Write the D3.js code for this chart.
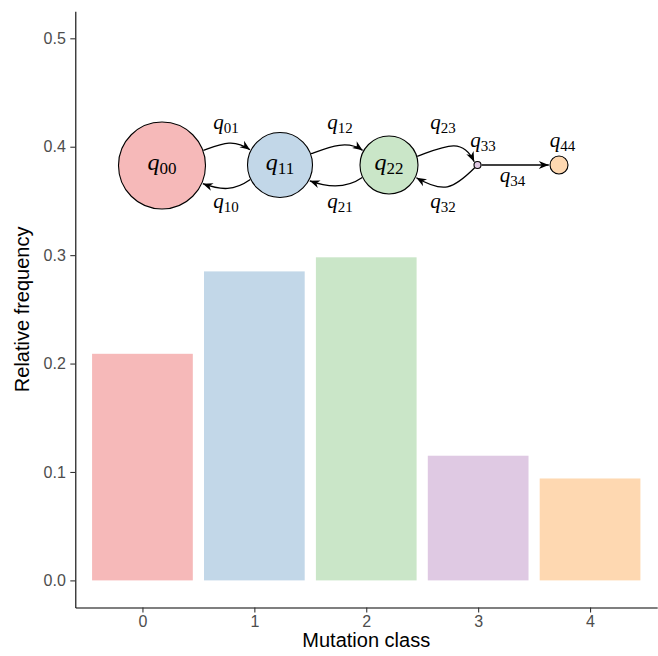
<!DOCTYPE html>
<html>
<head>
<meta charset="utf-8">
<script src="https://cdn.jsdelivr.net/npm/d3@7"></script>
<style>
  body { margin: 0; background: #fff; }
  svg { display: block; }
</style>
</head>
<body>
<div id="chart"></div>
<script>
// data
const classes = [0, 1, 2, 3, 4];
const freqs = [0.209, 0.285, 0.298, 0.115, 0.094];
const yTicks = [0, 0.1, 0.2, 0.3, 0.4, 0.5];
const barColors = ["#F6B9B9", "#C2D7E8", "#CAE6C8", "#DFC9E3", "#FED8B1"];

// transition diagram: states and the arrows between them
const states = ["00", "11", "22", "33", "44"];
const transitions = [
  { from: 0, to: 1, sub: "01" },
  { from: 1, to: 0, sub: "10" },
  { from: 1, to: 2, sub: "12" },
  { from: 2, to: 1, sub: "21" },
  { from: 2, to: 3, sub: "23" },
  { from: 3, to: 2, sub: "32" },
  { from: 3, to: 4, sub: "34" }
];

const width = 658, height = 656;
const font = "'Liberation Sans', Arial, Helvetica, sans-serif";
const mathFont = "'Liberation Serif', 'Times New Roman', serif";

const svg = d3.select('#chart').append('svg')
  .attr('width', width)
  .attr('height', height);

const x = d3.scaleLinear().domain([-0.6, 4.6]).range([75.3, 657.2]);
const y = d3.scaleLinear().domain([-0.025, 0.525]).range([607.5, 11.2]);

// bars
svg.append('g')
  .selectAll('rect')
  .data(classes)
  .enter().append('rect')
  .attr('x', d => x(d - 0.45))
  .attr('width', d => x(d + 0.45) - x(d - 0.45))
  .attr('y', (d, i) => y(freqs[i]))
  .attr('height', (d, i) => y(0) - y(freqs[i]))
  .attr('fill', (d, i) => barColors[i]);

// axes
const yAxis = svg.append('g')
  .attr('transform', `translate(${x.range()[0]},0)`)
  .call(d3.axisLeft(y).tickValues(yTicks).tickFormat(d3.format('.1f'))
    .tickSize(5).tickSizeOuter(0).tickPadding(4.5));

const xAxis = svg.append('g')
  .attr('transform', `translate(0,${y.range()[0]})`)
  .call(d3.axisBottom(x).tickValues(classes).tickFormat(d3.format('d'))
    .tickSize(5).tickSizeOuter(0).tickPadding(3.5));

[yAxis, xAxis].forEach(ax => {
  ax.select('.domain').attr('stroke', '#000').attr('stroke-width', 1.1);
  ax.selectAll('.tick line').attr('stroke', '#333').attr('stroke-width', 1.1);
  ax.selectAll('.tick text')
    .attr('fill', '#4D4D4D')
    .style('font-family', font)
    .style('font-size', '16px');
});

svg.append('text')
  .attr('x', (x.range()[0] + x.range()[1]) / 2)
  .attr('y', 647)
  .attr('text-anchor', 'middle')
  .style('font-family', font)
  .style('font-size', '20px')
  .text('Mutation class');

svg.append('text')
  .attr('transform', `translate(28.5,${(y.range()[0] + y.range()[1]) / 2}) rotate(-90)`)
  .attr('text-anchor', 'middle')
  .style('font-family', font)
  .style('font-size', '20px')
  .text('Relative frequency');

// ---- inset diagram ----
const nodeLayout = [
  { cx: 162, cy: 165.5, r: 43.5 },
  { cx: 280, cy: 165, r: 32.5 },
  { cx: 389, cy: 165, r: 29 },
  { cx: 477.5, cy: 165, r: 3.5 },
  { cx: 559, cy: 165, r: 9 }
];

// attach angles, tangent directions, label spots
const edgeLayout = {
  "01": { a0: -20, a1: -153, out: -20, inn: -145, d: 20, lx: 226, ly: 129 },
  "10": { a0: 154, a1: 24, out: 145, inn: 20, d: 20, lx: 226, ly: 208 },
  "12": { a0: -20, a1: -151, out: -20, inn: -145, d: 19, lx: 340, ly: 129 },
  "21": { a0: 155, a1: 28, out: 145, inn: 20, d: 19, lx: 340, ly: 208 },
  "23": { a0: -17, a1: -135, out: -20, inn: -115, d: 28, lx: 443, ly: 129 },
  "32": { a0: 135, a1: 25, out: 135, inn: 30, d: 31, lx: 443, ly: 208 },
  "34": { a0: 0, a1: 180, straight: true, lx: 512.5, ly: 182 }
};

const rad = a => a * Math.PI / 180;
function pointOn(n, deg, off) {
  return [n.cx + (n.r + off) * Math.cos(rad(deg)), n.cy + (n.r + off) * Math.sin(rad(deg))];
}

const defs = svg.append('defs');
defs.append('marker')
  .attr('id', 'arrowhead')
  .attr('viewBox', '-11 -5 12 10')
  .attr('refX', 0)
  .attr('refY', 0)
  .attr('markerWidth', 12)
  .attr('markerHeight', 10)
  .attr('markerUnits', 'userSpaceOnUse')
  .attr('orient', 'auto')
  .append('path')
  .attr('d', 'M0,0 L-10,-4 L-7,0 L-10,4 Z')
  .attr('fill', '#000');

const diagram = svg.append('g').attr('class', 'diagram');

diagram.selectAll('path.edge')
  .data(transitions)
  .enter().append('path')
  .attr('class', 'edge')
  .attr('fill', 'none')
  .attr('stroke', '#000')
  .attr('stroke-width', 1.3)
  .attr('marker-end', 'url(#arrowhead)')
  .attr('d', t => {
    const g = edgeLayout[t.sub];
    const p0 = pointOn(nodeLayout[t.from], g.a0, 0.5);
    const p3 = pointOn(nodeLayout[t.to], g.a1, 1.2);
    if (g.straight) return `M${p0}L${p3}`;
    const c1 = [p0[0] + g.d * Math.cos(rad(g.out)), p0[1] + g.d * Math.sin(rad(g.out))];
    const c2 = [p3[0] + g.d * Math.cos(rad(g.inn)), p3[1] + g.d * Math.sin(rad(g.inn))];
    return `M${p0}C${c1} ${c2} ${p3}`;
  });

diagram.selectAll('circle')
  .data(states)
  .enter().append('circle')
  .attr('cx', (d, i) => nodeLayout[i].cx)
  .attr('cy', (d, i) => nodeLayout[i].cy)
  .attr('r', (d, i) => nodeLayout[i].r)
  .attr('fill', (d, i) => barColors[i])
  .attr('stroke', '#000')
  .attr('stroke-width', 1.1);

function qLabel(g, sub, lx, ly, qSize, subSize, drop) {
  const t = g.append('text')
    .attr('x', lx)
    .attr('y', ly)
    .attr('text-anchor', 'middle')
    .style('font-family', mathFont);
  t.append('tspan')
    .style('font-style', 'italic')
    .style('font-size', qSize + 'px')
    .text('q');
  t.append('tspan')
    .attr('dy', drop)
    .style('font-size', subSize + 'px')
    .text(sub);
}

// state labels: big ones sit inside, tiny ones above
states.forEach((s, i) => {
  const n = nodeLayout[i];
  if (n.r > 20) qLabel(diagram, s, n.cx, n.cy + 4.5, 24, 17, 4);
  else qLabel(diagram, s, n.cx + (i === 3 ? 5.5 : 3.5), n.cy - 18, 21, 15, 4);
});

transitions.forEach(t => {
  const g = edgeLayout[t.sub];
  qLabel(diagram, t.sub, g.lx, g.ly, 21, 15, 4);
});
</script>
</body>
</html>
